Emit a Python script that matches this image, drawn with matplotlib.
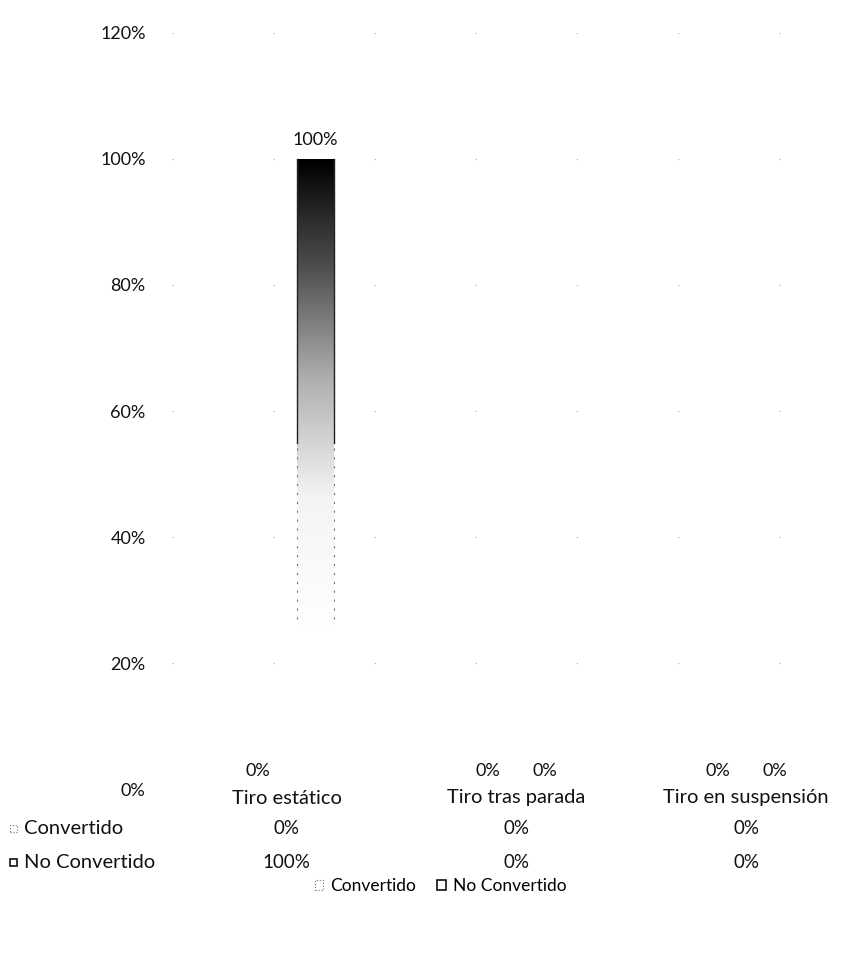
import numpy as np
import matplotlib.pyplot as plt
from matplotlib.patches import Patch, Rectangle
from matplotlib.colors import LinearSegmentedColormap

plt.rcParams['font.family'] = ['Lato', 'DejaVu Sans']

categories = ['Tiro estático', 'Tiro tras parada', 'Tiro en suspensión']
series = ['Convertido', 'No Convertido']
convertido = [0, 0, 0]
no_convertido = [100, 0, 0]
y_ticks = [0, 20, 40, 60, 80, 100, 120]

fig = plt.figure(figsize=(8.42, 9.56), dpi=100)
ax_left, ax_bottom, ax_h = 172 / 842, 0.174, 0.792
ax = fig.add_axes([ax_left, ax_bottom, 1 - ax_left, ax_h])

x = np.arange(len(categories))
width = 0.16
offset = 0.125

# shaded fill: black at the top, fading to white towards the lower part
fade = LinearSegmentedColormap.from_list('fade', ['white', '#f4f4f4', '#b0b0b0', '#505050', 'black'])

bars_c = ax.bar(x - offset, convertido, width, color='white', edgecolor='none')
bars_n = ax.bar(x + offset, no_convertido, width, color='none', edgecolor='none')

for bar, val in zip(bars_n, no_convertido):
    if val <= 0:
        continue
    x0 = bar.get_x()
    grad = np.linspace(0, 1, 256).reshape(-1, 1)
    shade = np.clip((grad - 0.25) / 0.75, 0, 1) ** 1.1
    im = ax.imshow(shade, cmap=fade, origin='lower', aspect='auto',
                   extent=[x0, x0 + bar.get_width(), 0, val], vmin=0, vmax=1, zorder=2)
    im.set_clip_path(bar)
    # thin edges that fade out lower down
    for ex in (x0, x0 + bar.get_width()):
        ax.plot([ex, ex], [val * 0.55, val], color='#222222', lw=1.0, zorder=3)
        ax.plot([ex, ex], [val * 0.27, val * 0.55], color='#777777', lw=0.8, ls=(0, (2, 6)), zorder=3)

# value labels
for xs, vals in ((x - offset, convertido), (x + offset, no_convertido)):
    for xi, v in zip(xs, vals):
        ax.annotate(f'{v}%', (xi, v), xytext=(0, 8), textcoords='offset points',
                    ha='center', va='bottom', fontsize=13, color='#111111')

ax.set_xlim(-0.5, 2.417)
ax.set_ylim(0, 120)
ax.set_yticks(y_ticks)
ax.set_yticklabels([f'{t}%' for t in y_ticks], fontsize=13, color='#111111')
ax.tick_params(axis='y', length=0, pad=19)
ax.set_xticks([])
for s in ax.spines.values():
    s.set_visible(False)

# faint dotted gridlines
for t in y_ticks[1:]:
    ax.axhline(t, color='#aaaaaa', lw=0.8, ls=(0, (1, 90)), zorder=0)

# data table under the plot
table_rows = [convertido, no_convertido]
row_y = [1 - 828 / 956, 1 - 862 / 956]
cat_y = 1 - 798 / 956
tr = ax.get_xaxis_transform()
for xi, cat in zip(x, categories):
    ax.text(xi, (cat_y - ax_bottom) / ax_h, cat, transform=tr, ha='center', va='center',
            fontsize=14.5, color='#111111')
for name, vals, ry in zip(series, table_rows, row_y):
    for xi, v in zip(x, vals):
        ax.text(xi, (ry - ax_bottom) / ax_h, f'{v}%', transform=tr, ha='center', va='center',
                fontsize=13.5, color='#111111')
    fig.text(24 / 842, ry, name, ha='left', va='center', fontsize=14.5, color='#111111')

# small keys beside the row names
fig.patches.append(Rectangle((10 / 842, row_y[0] - 0.004), 7 / 842, 0.007, transform=fig.transFigure,
                             facecolor='white', edgecolor='#777777', lw=0.8, ls=':'))
fig.patches.append(Rectangle((10 / 842, row_y[1] - 0.004), 7 / 842, 0.007, transform=fig.transFigure,
                             facecolor='white', edgecolor='#111111', lw=1.2))

handles = [Patch(facecolor='white', edgecolor='#777777', ls=':', lw=0.8, label='Convertido'),
           Patch(facecolor='white', edgecolor='#111111', lw=1.2, label='No Convertido')]
fig.legend(handles=handles, loc='center', bbox_to_anchor=(0.523, 1 - 886 / 956), ncol=2,
           frameon=False, fontsize=12.5, handlelength=0.5, handleheight=0.5,
           handletextpad=0.4, columnspacing=1.2)

plt.savefig('out.png', dpi=100)
